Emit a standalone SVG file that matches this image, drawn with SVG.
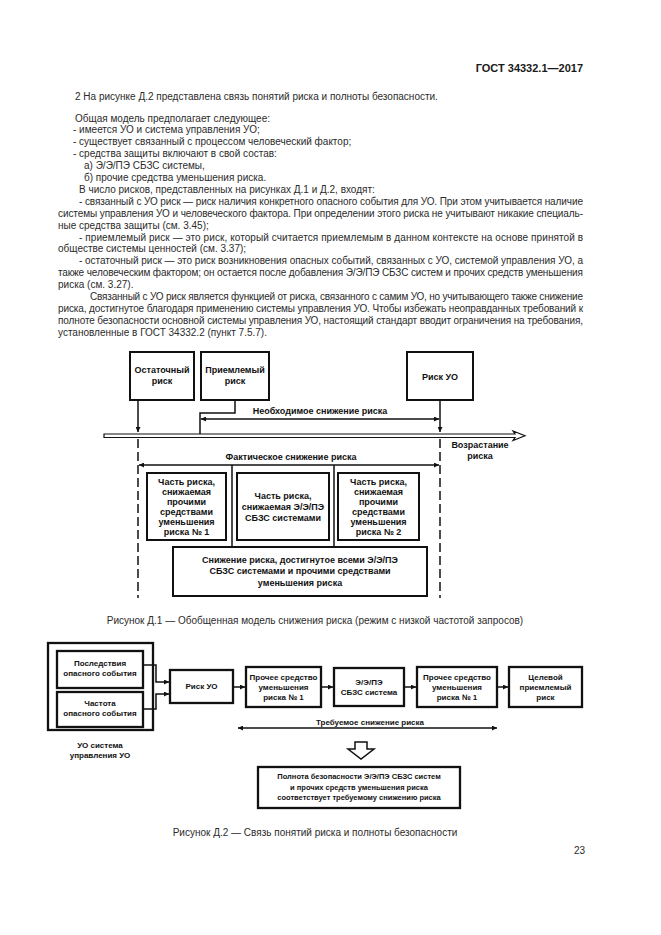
<svg xmlns="http://www.w3.org/2000/svg" width="661" height="935" viewBox="0 0 661 935">
<style>
.pg{fill:#fff}
.t{font-family:"Liberation Sans",Arial,sans-serif;font-size:10px;fill:#2b2b2b}
.h{font-family:"Liberation Sans",Arial,sans-serif;font-size:11px;font-weight:bold;fill:#1a1a1a}
.d{font-family:"Liberation Sans",Arial,sans-serif;font-size:9px;font-weight:bold;fill:#111;text-anchor:middle}
.e{font-family:"Liberation Sans",Arial,sans-serif;font-size:8px;font-weight:bold;fill:#111;text-anchor:middle}
.f{font-family:"Liberation Sans",Arial,sans-serif;font-size:7.5px;font-weight:bold;fill:#111;text-anchor:middle}
.c{text-anchor:middle}
.bx{fill:#fff;stroke:#111;stroke-width:2}
.bx2{fill:#fff;stroke:#111;stroke-width:2.3}
.ln{fill:none;stroke:#111;stroke-width:1.5}
.dash{fill:none;stroke:#111;stroke-width:1.5;stroke-dasharray:9 4}
</style>
<defs>
<marker id="ah" viewBox="0 0 6 6" refX="6" refY="3" markerWidth="6" markerHeight="5" orient="auto-start-reverse" markerUnits="userSpaceOnUse"><path d="M0,0 L6,3 L0,6 Z" fill="#111"/></marker>
</defs>
<rect class="pg" x="0" y="0" width="661" height="935"/>

<g id="header"><text class="h" x="583" y="72" text-anchor="end">ГОСТ 34332.1—2017</text></g>

<g id="body-text">
<text class="t" x="75" y="100">2 На рисунке Д.2 представлена связь понятий риска и полноты безопасности.</text>
<text class="t" x="75" y="121.5">Общая модель предполагает следующее:</text>
<text class="t" x="73" y="133.4">-  имеется УО и система управления УО;</text>
<text class="t" x="73" y="145.3">-  существует связанный с процессом человеческий фактор;</text>
<text class="t" x="73" y="157.2">-  средства защиты включают в свой состав:</text>
<text class="t" x="84" y="169.1">а) Э/Э/ПЭ СБЗС системы,</text>
<text class="t" x="84" y="181">б) прочие средства уменьшения риска.</text>
<text class="t" x="79" y="192.9">В число рисков, представленных на рисунках Д.1 и Д.2, входят:</text>
<text class="t" x="79" y="204.8" textLength="504" lengthAdjust="spacing">-  связанный с УО риск — риск наличия конкретного опасного события для УО. При этом учитывается наличие</text>
<text class="t" x="58" y="216.7" textLength="525" lengthAdjust="spacing">системы управления УО и человеческого фактора. При определении этого риска не учитывают никакие специаль-</text>
<text class="t" x="58" y="228.6">ные средства защиты (см. 3.45);</text>
<text class="t" x="79" y="240.5" textLength="504" lengthAdjust="spacing">-  приемлемый риск — это риск, который считается приемлемым в данном контексте на основе принятой в</text>
<text class="t" x="58" y="252.4">обществе системы ценностей (см. 3.37);</text>
<text class="t" x="79" y="264.3" textLength="504" lengthAdjust="spacing">-  остаточный риск — это риск возникновения опасных событий, связанных с УО, системой управления УО, а</text>
<text class="t" x="58" y="276.2" textLength="525" lengthAdjust="spacing">также человеческим фактором; он остается после добавления Э/Э/ПЭ СБЗС систем и прочих средств уменьшения</text>
<text class="t" x="58" y="288.1">риска (см. 3.27).</text>
<text class="t" x="90" y="300" textLength="493" lengthAdjust="spacing">Связанный с УО риск является функцией от риска, связанного с самим УО, но учитывающего также снижение</text>
<text class="t" x="58" y="311.9" textLength="525" lengthAdjust="spacing">риска, достигнутое благодаря применению системы управления УО. Чтобы избежать неоправданных требований к</text>
<text class="t" x="58" y="323.8" textLength="525" lengthAdjust="spacing">полноте безопасности основной системы управления УО, настоящий стандарт вводит ограничения на требования,</text>
<text class="t" x="58" y="335.7">установленные в ГОСТ 34332.2 (пункт 7.5.7).</text>
</g>

<!-- Figure D.1 -->
<g id="f1-connectors">
<path class="ln" d="M138,400 V432" marker-end="url(#ah)"/>
<path class="ln" d="M440,400 V432" marker-end="url(#ah)"/>
<path class="ln" d="M235,400 V413 H200 V434"/>
<path class="ln" d="M201,419 H439" marker-start="url(#ah)" marker-end="url(#ah)"/>
<path d="M104,434 H515 L513,431 L525,435.75 L513,440.5 L515,437.5 H104 Z" fill="#fff" stroke="#111" stroke-width="1.2"/>
<path class="dash" d="M138,439 V598"/>
<path class="dash" d="M440,439 V598"/>
<path class="ln" d="M139,465 H439" marker-start="url(#ah)" marker-end="url(#ah)"/>
<path class="ln" d="M232,465 V547"/>
<path class="ln" d="M334,465 V547"/>
<text class="d" x="320" y="414">Необходимое снижение риска</text>
<text class="d" x="291" y="460">Фактическое снижение риска</text>
<text class="d" x="480" y="448">Возрастание</text>
<text class="d" x="480" y="459">риска</text>
</g>
<g id="n-residual"><rect class="bx" x="130" y="352" width="64" height="48"/><text class="d" x="162" y="373">Остаточный</text><text class="d" x="162" y="384">риск</text></g>
<g id="n-acceptable"><rect class="bx" x="201" y="352" width="68" height="48"/><text class="d" x="235" y="373">Приемлемый</text><text class="d" x="235" y="384">риск</text></g>
<g id="n-eucrisk"><rect class="bx" x="407" y="352" width="66" height="48"/><text class="d" x="440" y="380">Риск УО</text></g>
<g id="n-part1"><rect class="bx" x="147" y="473" width="79" height="67"/>
<text class="d" x="186.5" y="485">Часть риска,</text><text class="d" x="186.5" y="495">снижаемая</text><text class="d" x="186.5" y="505">прочими</text><text class="d" x="186.5" y="515">средствами</text><text class="d" x="186.5" y="525">уменьшения</text><text class="d" x="186.5" y="535">риска № 1</text></g>
<g id="n-part2"><rect class="bx" x="237" y="473" width="92" height="67"/>
<text class="d" x="283" y="499" font-weight="normal">Часть риска,</text><text class="d" x="283" y="510">снижаемая Э/Э/ПЭ</text><text class="d" x="283" y="521">СБЗС системами</text></g>
<g id="n-part3"><rect class="bx" x="338" y="473" width="81" height="67"/>
<text class="d" x="378.5" y="485">Часть риска,</text><text class="d" x="378.5" y="495">снижаемая</text><text class="d" x="378.5" y="505">прочими</text><text class="d" x="378.5" y="515">средствами</text><text class="d" x="378.5" y="525">уменьшения</text><text class="d" x="378.5" y="535">риска № 2</text></g>
<g id="n-total"><rect class="bx" x="173" y="547" width="254" height="49"/>
<text class="d" x="300" y="563">Снижение риска, достигнутое всеми Э/Э/ПЭ</text><text class="d" x="300" y="574">СБЗС системами и прочими средствами</text><text class="d" x="300" y="586">уменьшения риска</text></g>
<g id="caption1"><text class="t c" x="315" y="624">Рисунок Д.1 — Обобщенная модель снижения риска (режим с низкой частотой запросов)</text></g>

<!-- Figure D.2 -->
<g id="n-euc"><rect class="bx2" x="48" y="643" width="105" height="87"/>
<text class="e" x="100" y="748">УО система</text><text class="e" x="100" y="758">управления УО</text></g>
<g id="n-conseq"><rect class="bx2" x="57" y="651" width="86" height="37"/><text class="e" x="100" y="666">Последствия</text><text class="e" x="100" y="676">опасного события</text></g>
<g id="n-freq"><rect class="bx2" x="57" y="692" width="86" height="35"/><text class="e" x="100" y="706">Частота</text><text class="e" x="100" y="716">опасного события</text></g>
<g id="n-risk2"><rect class="bx2" x="170" y="670" width="63" height="33"/><text class="e" x="201.5" y="689">Риск УО</text></g>
<g id="n-other1"><rect class="bx2" x="246" y="667" width="75" height="40"/><text class="e" x="283.5" y="680">Прочее средство</text><text class="e" x="283.5" y="690">уменьшения</text><text class="e" x="283.5" y="700">риска № 1</text></g>
<g id="n-eepe"><rect class="bx2" x="334" y="668" width="70" height="38"/><text class="e" x="369" y="685">Э/Э/ПЭ</text><text class="e" x="369" y="695">СБЗС система</text></g>
<g id="n-other2"><rect class="bx2" x="417" y="667" width="80" height="40"/><text class="e" x="457" y="680">Прочее средство</text><text class="e" x="457" y="690">уменьшения</text><text class="e" x="457" y="700">риска № 1</text></g>
<g id="n-target"><rect class="bx2" x="509" y="667" width="73" height="40"/><text class="e" x="545.5" y="680">Целевой</text><text class="e" x="545.5" y="690">приемлемый</text><text class="e" x="545.5" y="700">риск</text></g>
<g id="f2-connectors">
<path class="ln" d="M143,665 H156 V682 H169" marker-end="url(#ah)"/>
<path class="ln" d="M143,709 H156 V694 H169" marker-end="url(#ah)"/>
<path class="ln" d="M233,687 H245" marker-end="url(#ah)"/>
<path class="ln" d="M321,687 H333" marker-end="url(#ah)"/>
<path class="ln" d="M404,687 H416" marker-end="url(#ah)"/>
<path class="ln" d="M497,687 H508" marker-end="url(#ah)"/>
<path class="ln" d="M238,728 H497" marker-start="url(#ah)" marker-end="url(#ah)"/>
<text class="e" x="370" y="725">Требуемое снижение риска</text>
<path d="M355,742 H367 V749 H374 L361,759 L348,749 H355 Z" fill="#fff" stroke="#111" stroke-width="1.5"/>
</g>
<g id="n-result"><rect class="bx2" x="258" y="767" width="202" height="41"/>
<text class="f" x="359" y="779">Полнота безопасности Э/Э/ПЭ СБЗС систем</text><text class="f" x="359" y="790">и прочих средств уменьшения риска</text><text class="f" x="359" y="800">соответствует требуемому снижению риска</text></g>
<g id="caption2"><text class="t c" x="315" y="836">Рисунок Д.2 — Связь понятий риска и полноты безопасности</text></g>
<g id="pageno"><text class="t" x="585" y="854" text-anchor="end">23</text></g>
</svg>
